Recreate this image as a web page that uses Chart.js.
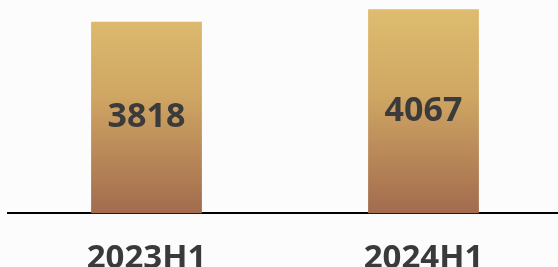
<!DOCTYPE html>
<html>
<head>
<meta charset="utf-8">
<script src="https://cdn.jsdelivr.net/npm/chart.js@4"></script>
<style>
  html, body { margin: 0; padding: 0; background: #fcfcfc; overflow: hidden; }
  #wrap { width: 558px; height: 267px; overflow: hidden; }
</style>
</head>
<body>
<div id="wrap"><canvas id="chart" width="562" height="303"></canvas></div>
<script>
const periods = ['2023H1', '2024H1'];
const values = [3818, 4067];

const ctx = document.getElementById('chart').getContext('2d');

function barGradient(context) {
  const area = context.chart.chartArea;
  if (!area) return '#c99a5e';
  const g = context.chart.ctx.createLinearGradient(0, area.top, 0, area.bottom);
  g.addColorStop(0, '#dfbf70');
  g.addColorStop(0.45, '#cfa663');
  g.addColorStop(1, '#a26b4e');
  return g;
}

// value text in the middle of each bar
const barValues = {
  id: 'barValues',
  afterDatasetsDraw(chart) {
    const c = chart.ctx;
    const meta = chart.getDatasetMeta(0);
    c.save();
    c.font = 'bold 34px "Open Sans"';
    c.fillStyle = '#3b3b3b';
    c.textAlign = 'center';
    c.textBaseline = 'middle';
    meta.data.forEach((bar, i) => {
      const y = (bar.y + bar.base) / 2;
      c.fillText(chart.data.datasets[0].data[i], bar.x, y);
    });
    c.restore();
  }
};

new Chart(ctx, {
  type: 'bar',
  data: {
    labels: periods,
    datasets: [{
      data: values,
      backgroundColor: barGradient,
      borderWidth: 0,
      barPercentage: 0.8,
      categoryPercentage: 0.5
    }]
  },
  options: {
    responsive: false,
    animation: false,
    layout: { padding: { left: 8, right: 0, top: 0, bottom: 0 } },
    plugins: { legend: { display: false }, tooltip: { enabled: false } },
    scales: {
      x: {
        grid: { display: false, drawTicks: false },
        border: { display: true, color: '#000', width: 2 },
        ticks: {
          color: '#3a3a3a',
          padding: 25,
          font: { family: 'Open Sans', size: 33, weight: 'bold' }
        }
      },
      y: {
        display: false,
        min: 0,
        max: 4250
      }
    }
  },
  plugins: [barValues]
});
</script>
</body>
</html>
